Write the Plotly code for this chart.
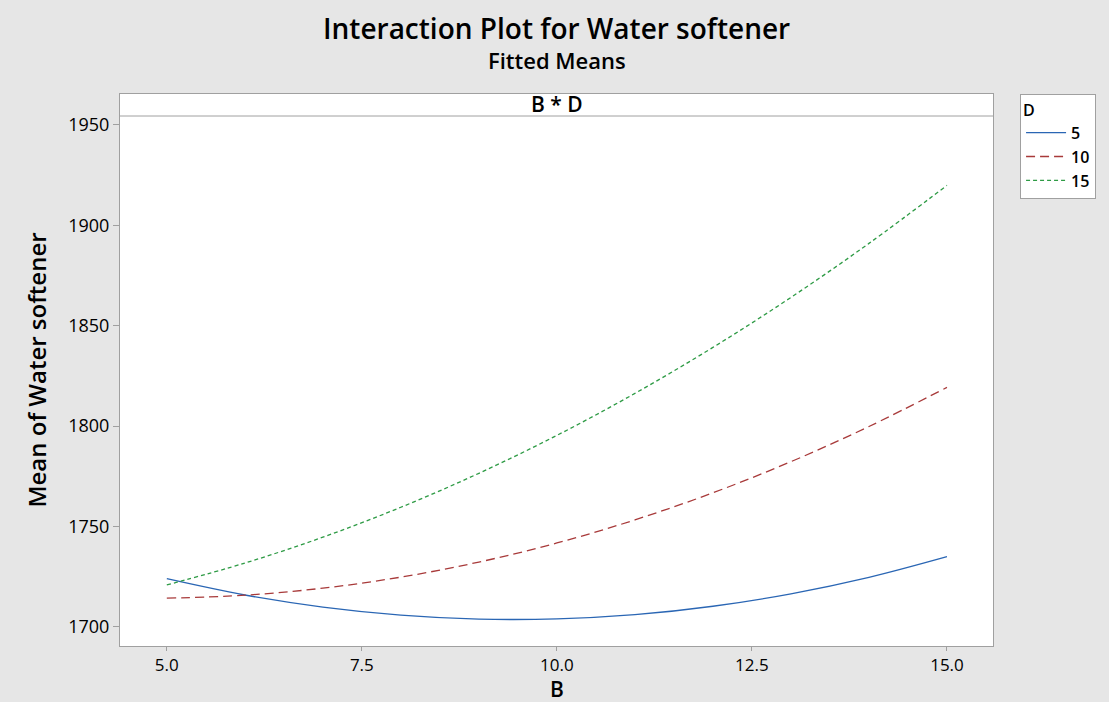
import plotly.graph_objects as go

# Values
B_values = [5, 6, 7, 8, 9, 10, 11, 12, 13, 14, 15]
D_levels = ["5", "10", "15"]
mean_D5 = [1724.0, 1715.9, 1709.9, 1705.9, 1703.9, 1704.0, 1706.1, 1710.3, 1716.5, 1724.7, 1735.0]
mean_D10 = [1714.3, 1715.8, 1719.3, 1724.8, 1732.3, 1741.8, 1753.3, 1766.8, 1782.3, 1799.8, 1819.3]
mean_D15 = [1720.9, 1731.8, 1744.7, 1759.6, 1776.5, 1795.4, 1816.3, 1839.2, 1864.1, 1891.0, 1919.9]
x_ticks = [5.0, 7.5, 10.0, 12.5, 15.0]
y_ticks = [1700, 1750, 1800, 1850, 1900, 1950]

FONT = "Open Sans"
series = [
    (D_levels[0], mean_D5, "#2A66B4", "solid"),
    (D_levels[1], mean_D10, "#A83A3A", "9px,5px"),
    (D_levels[2], mean_D15, "#2E9B45", "4px,3px"),
]

fig = go.Figure()
for name, vals, color, dash in series:
    fig.add_trace(go.Scatter(
        x=B_values, y=vals, mode="lines", name=name,
        line=dict(color=color, width=1.3, dash=dash, shape="spline"),
    ))

PLOT_TOP, PLOT_BOTTOM = 94, 646
def py(pixel_y):
    return (PLOT_BOTTOM - pixel_y) / (PLOT_BOTTOM - PLOT_TOP)

fig.update_layout(
    width=1109, height=702,
    paper_bgcolor="#E6E6E6", plot_bgcolor="white",
    margin=dict(l=120, r=116, t=94, b=56),
    font=dict(family=FONT, color="black"),
    showlegend=True,
    legend=dict(
        x=1.031, y=1, xanchor="left", yanchor="top",
        bgcolor="white", bordercolor="#A0A0A0", borderwidth=1,
        font=dict(family=FONT, size=16, color="black", weight=600),
        title=dict(text="D", font=dict(family=FONT, size=16, weight=600)),
        itemwidth=40, tracegroupgap=0,
    ),
    xaxis=dict(
        range=[4.40, 15.59], tickvals=x_ticks, ticktext=[f"{v:.1f}" for v in x_ticks],
        showgrid=False, zeroline=False, showline=True, linecolor="#A0A0A0", mirror=True,
        ticks="outside", ticklen=4, tickcolor="#A0A0A0", automargin=False,
        tickfont=dict(family=FONT, size=17, color="black", weight=500),
    ),
    yaxis=dict(
        range=[1690.5, 1965.4], tickvals=y_ticks,
        showgrid=False, zeroline=False, showline=True, linecolor="#A0A0A0", mirror=True,
        ticks="outside", ticklen=6, tickcolor="#A0A0A0", automargin=False,
        tickfont=dict(family=FONT, size=18, color="black", weight=500),
        title=dict(text="Mean of Water softener", font=dict(family=FONT, size=24, weight=600), standoff=14),
    ),
)

# x axis title
fig.add_annotation(text="B", xref="paper", yref="paper", x=0.5, y=py(702), yanchor="bottom",
                   height=22, valign="middle",
                   showarrow=False, font=dict(family=FONT, size=21, weight=600, color="black"))

# strip header "B * D"
fig.add_shape(type="line", xref="paper", yref="paper", x0=0, x1=1, y0=py(116), y1=py(116),
              line=dict(color="#A0A0A0", width=1))
fig.add_annotation(text="B * D", xref="paper", yref="paper", x=0.5, y=py(104), yanchor="middle",
                   showarrow=False, font=dict(family=FONT, size=21, weight=600, color="black"))

# titles
fig.add_annotation(text="Interaction Plot for Water softener", xref="paper", yref="paper",
                   x=0.5, y=py(28), yanchor="middle", showarrow=False,
                   font=dict(family=FONT, size=28, weight=600, color="black"))
fig.add_annotation(text="Fitted Means", xref="paper", yref="paper",
                   x=0.5, y=py(60), yanchor="middle", showarrow=False,
                   font=dict(family=FONT, size=22, weight=600, color="black"))

fig.write_html("out.html")
